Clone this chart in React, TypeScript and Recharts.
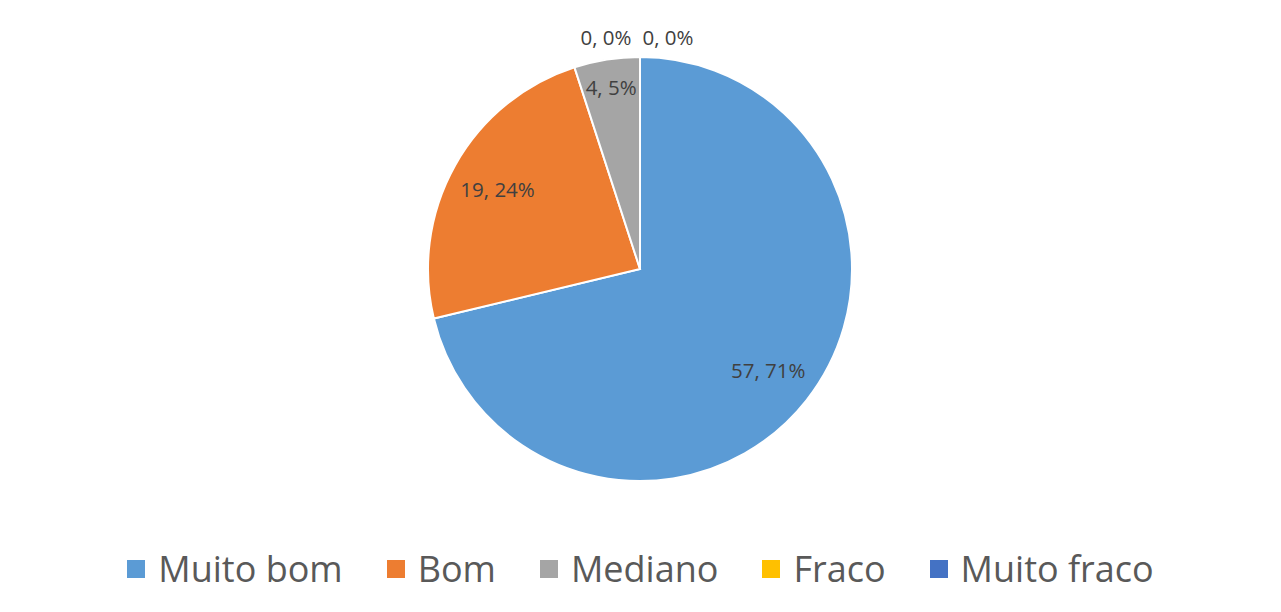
import { PieChart, Pie, Cell, Legend } from "recharts";

const categories = ["Muito bom", "Bom", "Mediano", "Fraco", "Muito fraco"];
const counts = [57, 19, 4, 0, 0];
const colors = ["#5B9BD5", "#ED7D31", "#A5A5A5", "#FFC000", "#4472C4"];

const data = categories.map((name, i) => ({ name, value: counts[i] }));
const total = counts.reduce((a, b) => a + b, 0);

const RAD = Math.PI / 180;

function renderLabel(props: any) {
  const { cx, cy, midAngle, outerRadius, value, index } = props;
  const pct = Math.round((value / total) * 100);
  const text = `${value}, ${pct}%`;
  let x: number;
  let y: number;
  if (value === 0) {
    // zero slices sit at the top, labels pushed outside
    x = cx + (index === 3 ? -34 : 28);
    y = cy - outerRadius - 20;
  } else {
    const r = outerRadius * (value / total < 0.1 ? 0.87 : 0.77);
    x = cx + r * Math.cos(-midAngle * RAD);
    y = cy + r * Math.sin(-midAngle * RAD);
  }
  return (
    <text
      x={x}
      y={y}
      fill="#404040"
      fontSize={20.5}
      fontFamily="'Open Sans', sans-serif"
      textAnchor="middle"
      dominantBaseline="central"
    >
      {text}
    </text>
  );
}

function LegendContent() {
  return (
    <div
      style={{
        display: "flex",
        justifyContent: "center",
        gap: 44,
        fontFamily: "'Open Sans', sans-serif",
        fontSize: 36,
        color: "#595959",
      }}
    >
      {categories.map((c, i) => (
        <div key={c} style={{ display: "flex", alignItems: "center" }}>
          <span
            style={{
              display: "inline-block",
              width: 18,
              height: 18,
              background: colors[i],
              marginRight: 13,
            }}
          />
          <span>{c}</span>
        </div>
      ))}
    </div>
  );
}

export default function App() {
  return (
    <div style={{ position: "absolute", left: 0, top: 0, width: 1281, height: 612, background: "#fff" }}>
      <PieChart width={1281} height={612}>
        <Pie
          data={data}
          dataKey="value"
          nameKey="name"
          cx={635}
          cy={264}
          outerRadius={212}
          startAngle={90}
          endAngle={-270}
          stroke="#ffffff"
          strokeWidth={2}
          label={renderLabel}
          labelLine={false}
          isAnimationActive={false}
        >
          {data.map((d, i) => (
            <Cell key={d.name} fill={colors[i]} />
          ))}
        </Pie>
        <Legend
          verticalAlign="bottom"
          content={<LegendContent />}
          wrapperStyle={{ bottom: 19 }}
        />
      </PieChart>
    </div>
  );
}
